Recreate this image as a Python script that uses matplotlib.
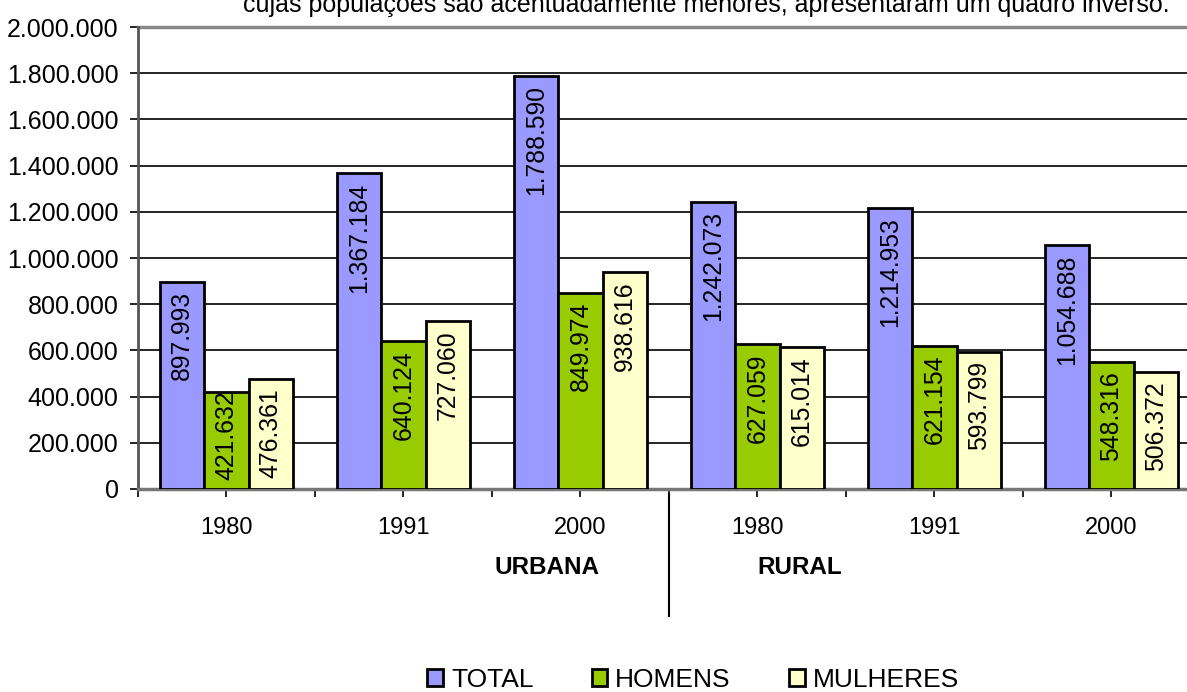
import matplotlib
matplotlib.use("Agg")
import matplotlib.pyplot as plt
import numpy as np
from matplotlib.patches import Patch

plt.rcParams["font.family"] = ["Liberation Sans", "DejaVu Sans"]

years = ["1980", "1991", "2000", "1980", "1991", "2000"]
areas = ["URBANA", "RURAL"]
series = ["TOTAL", "HOMENS", "MULHERES"]
total = [897993, 1367184, 1788590, 1242073, 1214953, 1054688]
homens = [421632, 640124, 849974, 627059, 621154, 548316]
mulheres = [476361, 727060, 938616, 615014, 593799, 506372]
colors = ["#9999FF", "#99CC00", "#FFFFCC"]
caption = "cujas populações são acentuadamente menores, apresentaram um quadro inverso."


def fmt(v):
    return f"{v:,.0f}".replace(",", ".")


fig = plt.figure(figsize=(11.87, 6.92), dpi=100)
ax = fig.add_axes([138 / 1187, 1 - 489 / 692, 1062 / 1187, 462 / 692])

x = np.arange(len(years))
width = 0.25
for i, (vals, col) in enumerate(zip([total, homens, mulheres], colors)):
    pos = x + (i - 1) * width
    ax.bar(pos, vals, width, color=col, edgecolor="black", linewidth=2, zorder=3)
    for p, v in zip(pos, vals):
        # label sits just inside the bar top, pushed up for short bars
        y = max(v - 40000, 425000)
        ax.text(p, y, fmt(v), rotation=90, ha="center", va="top",
                fontsize=17.8, color="black", zorder=4)

ax.set_xlim(-0.5, 5.5)
ax.set_ylim(0, 2000000)
ax.set_yticks(np.arange(0, 2000001, 200000))
ax.set_yticklabels([fmt(v) for v in np.arange(0, 2000001, 200000)], fontsize=18)
ax.yaxis.grid(True, color="black", linewidth=1.2, zorder=0)
ax.set_axisbelow(True)

ax.set_xticks(x)
ax.set_xticklabels(years, fontsize=17)
ax.set_xticks(np.arange(-0.5, 6, 1), minor=True)
ax.tick_params(axis="x", which="both", length=6, width=1.2, direction="out", pad=14)
ax.tick_params(axis="y", length=6, width=1.2, direction="out", pad=8)

for s in ["top", "right"]:
    ax.spines[s].set_visible(False)
ax.spines["left"].set_color("#555555")
ax.spines["left"].set_linewidth(2)
ax.spines["bottom"].set_color("#777777")
ax.spines["bottom"].set_linewidth(2.5)
ax.axhline(2000000, color="#888888", linewidth=2.5, zorder=2, clip_on=False)

trans = ax.get_xaxis_transform()
ax.text(1.81, -0.17, areas[0], transform=trans, ha="center", va="center",
        fontsize=17.5, fontweight="bold")
ax.text(3.24, -0.17, areas[1], transform=trans, ha="center", va="center",
        fontsize=17.5, fontweight="bold")
ax.plot([2.5, 2.5], [-0.01, -0.275], transform=trans, color="black",
        linewidth=1.5, clip_on=False)

handles = [Patch(facecolor=c, edgecolor="black", linewidth=2) for c in colors]
fig.legend(handles, series, loc="center", bbox_to_anchor=(693 / 1187, 1 - 680 / 692),
           ncol=3, frameon=False, fontsize=19, handlelength=0.6, handleheight=0.6,
           handletextpad=0.3, columnspacing=2.2)

fig.text(243 / 1187, 1 - 12 / 692, caption, ha="left", va="baseline", fontsize=18)

fig.savefig("out.png", dpi=100)
